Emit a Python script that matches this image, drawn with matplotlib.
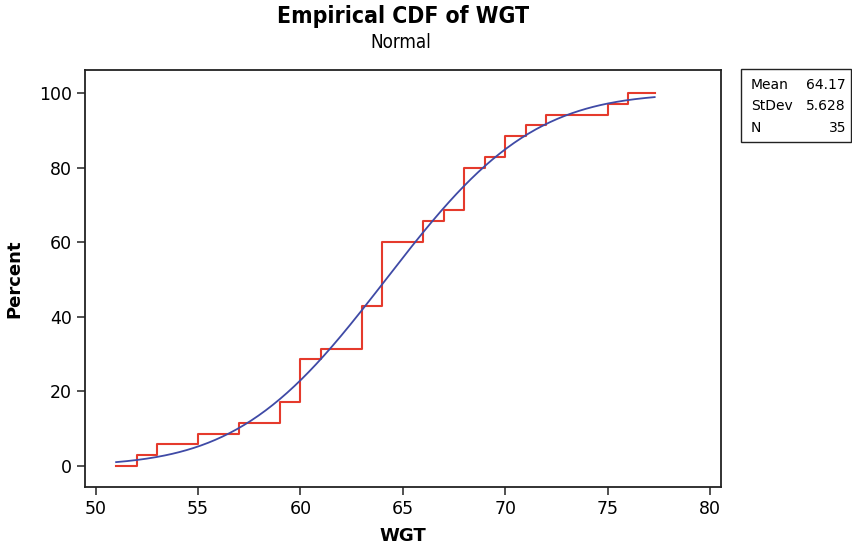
import numpy as np
import matplotlib
matplotlib.use("Agg")
import matplotlib.pyplot as plt
from matplotlib.patches import Rectangle
from math import erf, sqrt

# observed WGT values and how many times each one occurs (n = 35)
wgt_values = [52, 53, 55, 57, 59, 60, 61, 63, 64, 66, 67, 68, 69, 70, 71, 72, 75, 76]
wgt_counts = [1, 1, 1, 1, 2, 4, 1, 4, 6, 2, 1, 4, 1, 2, 1, 1, 1, 1]

fit_mean = 64.17
fit_sd = 5.628
n_obs = 35
x_lo, x_hi = 51.0, 77.3

stats_labels = ["Mean", "StDev", "N"]
stats_values = ["64.17", "5.628", "35"]

red = "#e53a2c"
blue = "#3f4aa6"

# step function of the empirical cdf
cum = np.cumsum(wgt_counts) / n_obs * 100
step_x = [x_lo] + wgt_values + [x_hi]
step_y = [0.0] + list(cum) + [cum[-1]]

# fitted normal cdf
xs = np.linspace(x_lo, x_hi, 300)
ys = np.array([50 * (1 + erf((v - fit_mean) / (fit_sd * sqrt(2)))) for v in xs])

plt.rcParams['font.family'] = ['DejaVu Sans']
fig = plt.figure(figsize=(8.52, 5.48), dpi=100)
ax = fig.add_axes([85 / 852, 1 - 487 / 548, 636 / 852, 417 / 548])

ax.plot(xs, ys, color=blue, lw=1.3, zorder=3)
ax.step(step_x, step_y, where='post', color=red, lw=1.5, zorder=2)

ax.set_xlim(49.48, 80.54)
ax.set_ylim(-5.72, 106.3)
ax.set_xticks([50, 55, 60, 65, 70, 75, 80])
ax.set_yticks([0, 20, 40, 60, 80, 100])
ax.tick_params(direction='out', length=6, width=1.2, labelsize=12.5, color='#333333')
for s in ax.spines.values():
    s.set_linewidth(1.3)
    s.set_color('#222222')

ax.set_xlabel("WGT", fontsize=13, fontweight='bold', labelpad=6)
ax.set_ylabel("Percent", fontsize=13, fontweight='bold', labelpad=11)

fig.text(403 / 852, 1 - 17 / 548, "Empirical CDF of WGT", ha='center', va='center',
         fontsize=16.5, fontweight='bold', fontstretch='condensed')
fig.text(401 / 852, 1 - 43 / 548, "Normal", ha='center', va='center',
         fontsize=13.5, fontstretch='condensed')

# stats box on the right
fig.patches.append(Rectangle((741 / 852, 1 - 142 / 548), 110 / 852, 73 / 548,
                             transform=fig.transFigure, fill=False, lw=1.0,
                             edgecolor='#222222'))
for i, (lab, val) in enumerate(zip(stats_labels, stats_values)):
    yy = 1 - (85 + i * 21.5) / 548
    fig.text(751 / 852, yy, lab, ha='left', va='center', fontsize=10)
    fig.text(846 / 852, yy, val, ha='right', va='center', fontsize=10)

fig.savefig("out.png", dpi=100)
